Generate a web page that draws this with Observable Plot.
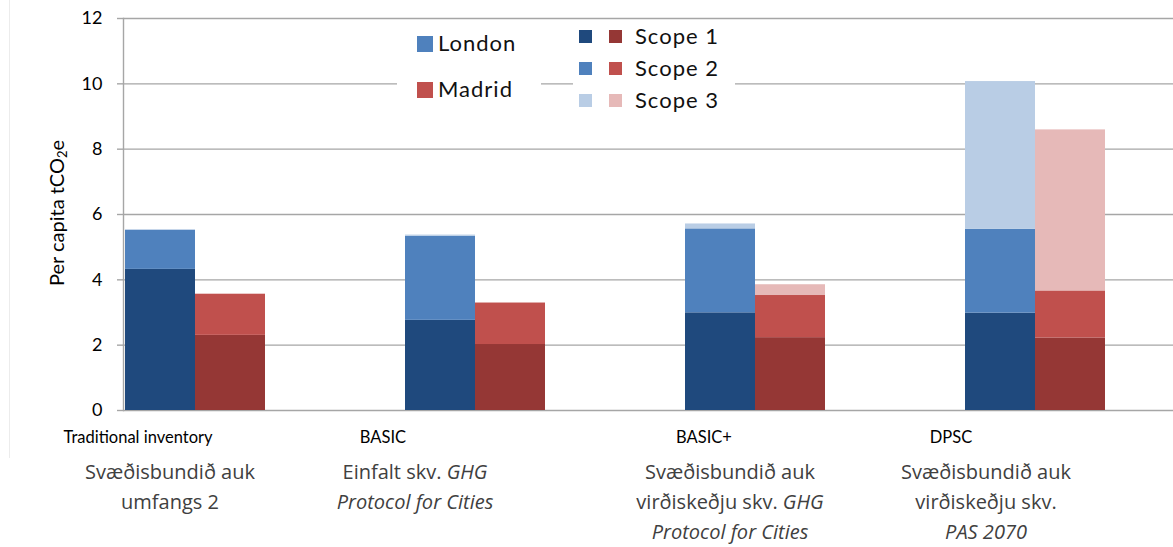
<!DOCTYPE html>
<html><head><meta charset="utf-8">
<script src="https://cdn.jsdelivr.net/npm/d3@7"></script>
<script src="https://cdn.jsdelivr.net/npm/@observablehq/plot@0.6"></script>
<style>
html,body{margin:0;padding:0;background:#fff;overflow:hidden;}
#wrap{position:relative;width:1173px;height:547px;overflow:hidden;font-family:Lato,sans-serif;}
#wrap svg{overflow:hidden;max-width:none;}
.edge{position:absolute;left:9px;top:0;height:458px;border-left:1px solid #ececec;}
.cat{position:absolute;top:427px;font-family:Lato,sans-serif;font-size:16.5px;color:#000;white-space:nowrap;transform:translateX(-50%);}
.desc{position:absolute;top:457px;font-family:"Open Sans",sans-serif;font-size:20px;line-height:30px;color:#404040;text-align:center;white-space:nowrap;transform:translateX(-50%);}
.ylab{position:absolute;left:57px;top:213px;font-family:Lato,sans-serif;font-size:20px;color:#000;white-space:nowrap;transform:translate(-50%,-50%) rotate(-90deg);}
.ylab sub{font-size:13px;vertical-align:-3px;}
.lg{position:absolute;background:#fff;font-family:Lato,sans-serif;font-size:22px;letter-spacing:1px;color:#111;}
.row{position:absolute;height:22px;line-height:22px;white-space:nowrap;}
.sw{position:absolute;display:inline-block;}
</style></head><body><div id="wrap"><div class="edge"></div></div>
<script>
const categories = ["Traditional inventory", "BASIC", "BASIC+", "DPSC"];
const cities = ["London", "Madrid"];
const scopes = ["Scope 1", "Scope 2", "Scope 3"];
// per category: [Scope 1, Scope 2, Scope 3]
const londonValues = [[4.32, 1.20, 0], [2.76, 2.57, 0.04], [2.99, 2.57, 0.15], [2.98, 2.57, 4.52]];
const madridValues = [[2.30, 1.26, 0], [2.02, 1.27, 0], [2.23, 1.29, 0.33], [2.22, 1.44, 4.93]];
const yTicks = [0, 2, 4, 6, 8, 10, 12];
const yLabelHtml = "Per capita tCO<sub>2</sub>e";
const descriptions = [
  "Svæðisbundið auk\numfangs 2",
  "Einfalt skv. *GHG*\n*Protocol for Cities*",
  "Svæðisbundið auk\nvirðiskeðju skv. *GHG*\n*Protocol for Cities*",
  "Svæðisbundið auk\nvirðiskeðju skv.\n*PAS 2070*"
];

// styles / layout
const palette = {London: ["#1f497d", "#4f81bd", "#b9cde5"], Madrid: ["#953735", "#c0504d", "#e6b9b8"]};
const catShift = [-57, -92, -51, -84];
const descShift = [-25, -60, -25, -49];

const valuesByCity = {London: londonValues, Madrid: madridValues};
const rows = [];
categories.forEach((c, i) => cities.forEach(city => scopes.forEach((s, j) => {
  rows.push({cat: c, city, scope: s, si: j, value: valuesByCity[city][i][j]});
})));
const slot = (c, k) => c + "|" + k;
const xDomain = categories.flatMap(c => [slot(c, "London"), slot(c, "Madrid"), slot(c, "gapA"), slot(c, "gapB")]);

const gridColor = "#a6a6a6";
const plot = Plot.plot({
  width: 1173, height: 547,
  marginLeft: 123, marginRight: -74, marginTop: 18, marginBottom: 137,
  style: {fontFamily: "Lato, sans-serif", background: "transparent", overflow: "hidden"},
  x: {type: "band", domain: xDomain, padding: 0, axis: null},
  y: {domain: [0, 12], axis: null},
  marks: [
    Plot.gridY(yTicks, {stroke: gridColor, strokeOpacity: 1, strokeWidth: 1.4}),
    Plot.barY(rows, {x: d => slot(d.cat, d.city), y: "value", fill: d => palette[d.city][d.si]}),
    Plot.axisY(yTicks, {tickSize: 6, tickPadding: 15, stroke: gridColor, strokeWidth: 1.4, fill: "#000", fontSize: 18, label: null}),
    Plot.frame({anchor: "left", stroke: gridColor, strokeWidth: 1.4})
  ]
});
const wrap = document.getElementById("wrap");
plot.style.position = "absolute"; plot.style.left = "0"; plot.style.top = "0";
wrap.appendChild(plot);

const yl = document.createElement("div");
yl.className = "ylab";
yl.innerHTML = yLabelHtml;
wrap.appendChild(yl);

const xs = plot.scale("x");
categories.forEach((c, i) => {
  const center = xs.apply(slot(c, "London")) + xs.bandwidth;
  const lab = document.createElement("div");
  lab.className = "cat";
  lab.textContent = c;
  lab.style.left = (center + catShift[i]) + "px";
  wrap.appendChild(lab);
  const d = document.createElement("div");
  d.className = "desc";
  d.innerHTML = descriptions[i].split("\n").map(l => l.replace(/\*([^*]+)\*/g, "<i>$1</i>")).join("<br>");
  d.style.left = (center + descShift[i]) + "px";
  wrap.appendChild(d);
});

// legends
function box(left, top, w, h) {
  const b = document.createElement("div");
  b.className = "lg";
  Object.assign(b.style, {left: left + "px", top: top + "px", width: w + "px", height: h + "px"});
  wrap.appendChild(b);
  return b;
}
function sw(parent, left, top, size, color) {
  const s = document.createElement("span");
  s.className = "sw";
  Object.assign(s.style, {left: left + "px", top: top + "px", width: size + "px", height: size + "px", background: color});
  parent.appendChild(s);
}
function txt(parent, left, top, t) {
  const r = document.createElement("div");
  r.className = "row";
  r.textContent = t;
  Object.assign(r.style, {left: left + "px", top: top + "px"});
  parent.appendChild(r);
}
const b1 = box(397, 28, 144, 80);
cities.forEach((c, i) => {
  sw(b1, 20, 8 + i * 46, 16, palette[c][1]);
  txt(b1, 41, 4 + i * 46, c);
});
const b2 = box(573, 20, 162, 96);
scopes.forEach((s, j) => {
  sw(b2, 6, 10 + j * 32, 13, palette.London[j]);
  sw(b2, 36, 10 + j * 32, 13, palette.Madrid[j]);
  txt(b2, 62, 5 + j * 32, s);
});
</script></body></html>
